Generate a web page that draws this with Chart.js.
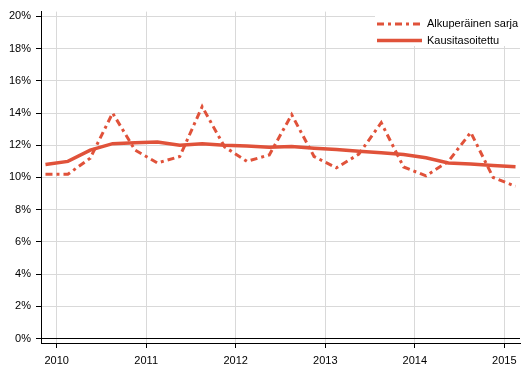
<!DOCTYPE html>
<html>
<head>
<meta charset="utf-8">
<script src="https://cdn.jsdelivr.net/npm/chart.js@4"></script>
<style>
html,body{margin:0;padding:0;background:#fff;}
#wrap{width:529px;height:378px;}
</style>
</head>
<body>
<div id="wrap"><canvas id="c" width="529" height="378"></canvas></div>
<script>
const quarters = ['2009Q4','2010Q1','2010Q2','2010Q3','2010Q4','2011Q1','2011Q2','2011Q3','2011Q4','2012Q1','2012Q2','2012Q3','2012Q4','2013Q1','2013Q2','2013Q3','2013Q4','2014Q1','2014Q2','2014Q3','2014Q4','2015Q1'];
const alkuperainen = [10.2,10.2,11.2,14.0,11.7,10.9,11.3,14.4,11.9,11.0,11.4,13.9,11.3,10.6,11.45,13.4,10.65,10.1,11.0,12.8,10.0,9.45];
const kausitasoitettu = [10.8,11.0,11.7,12.1,12.15,12.2,12.0,12.1,12.0,11.95,11.88,11.93,11.82,11.74,11.63,11.53,11.42,11.22,10.9,10.83,10.75,10.67];
const yearLabels = ['2010','2011','2012','2013','2014','2015'];
const yTicks = [0,2,4,6,8,10,12,14,16,18,20];
const seriesNames = ['Alkuperäinen sarja','Kausitasoitettu'];

const COLOR = '#e0523a';
const FONT = 'Liberation Sans, Arial, sans-serif';
const DASH = [7,4,3,4];

const yearTickPos = yearLabels.map(y => quarters.indexOf(y + 'Q1') - 0.5);

const legendPlugin = {
  id: 'customLegend',
  afterDraw(chart) {
    const ctx = chart.ctx;
    ctx.save();
    ctx.fillStyle = '#fff';
    ctx.fillRect(375, 9, 146, 37);
    const rows = [{y: 24, dash: DASH, w: 3}, {y: 40.5, dash: [], w: 3.5}];
    rows.forEach((r, i) => {
      ctx.beginPath();
      ctx.setLineDash(r.dash);
      ctx.lineWidth = r.w;
      ctx.strokeStyle = COLOR;
      ctx.moveTo(377, r.y);
      ctx.lineTo(422, r.y);
      ctx.stroke();
      ctx.setLineDash([]);
      ctx.fillStyle = '#000';
      ctx.font = '11px ' + FONT;
      ctx.textBaseline = 'middle';
      ctx.textAlign = 'left';
      ctx.fillText(seriesNames[i], 427, r.y);
    });
    ctx.restore();
  }
};

new Chart(document.getElementById('c'), {
  type: 'line',
  data: {
    datasets: [
      {
        label: seriesNames[0],
        data: alkuperainen.map((v, i) => ({x: i, y: v})),
        borderColor: COLOR,
        borderWidth: 3,
        borderDash: DASH,
        pointRadius: 0,
        tension: 0,
        fill: false
      },
      {
        label: seriesNames[1],
        data: kausitasoitettu.map((v, i) => ({x: i, y: v})),
        borderColor: COLOR,
        borderWidth: 3.5,
        pointRadius: 0,
        tension: 0,
        fill: false
      }
    ]
  },
  options: {
    responsive: false,
    animation: false,
    devicePixelRatio: 1,
    layout: {padding: {top: 10, right: 9, left: 0, bottom: 0}},
    plugins: {legend: {display: false}, tooltip: {enabled: false}},
    scales: {
      x: {
        type: 'linear',
        min: -0.2,
        max: 21.2,
        afterBuildTicks(scale) { scale.ticks = yearTickPos.map(v => ({value: v})); },
        afterFit(scale) { scale.height = 35; },
        grid: {color: '#d9d9d9', lineWidth: 1, tickLength: 5, tickColor: '#000', drawTicks: true},
        border: {display: true, color: '#000', width: 1},
        ticks: {
          autoSkip: false,
          maxRotation: 0,
          padding: 6,
          color: '#000',
          font: {family: FONT, size: 11},
          callback: (v, i) => yearLabels[i]
        }
      },
      y: {
        type: 'linear',
        min: -0.28,
        max: 20.3,
        afterBuildTicks(scale) { scale.ticks = yTicks.map(v => ({value: v})); },
        afterFit(scale) { scale.width = 41; },
        grid: {
          color: c => (c.tick && c.tick.value === 0) ? '#000' : '#d9d9d9',
          lineWidth: 1, tickLength: 5, tickColor: '#000', drawTicks: true
        },
        border: {display: true, color: '#000', width: 1},
        ticks: {
          autoSkip: false,
          padding: 5,
          color: '#000',
          font: {family: FONT, size: 11},
          callback: v => v + '%'
        }
      }
    }
  },
  plugins: [legendPlugin]
});
</script>
</body>
</html>
